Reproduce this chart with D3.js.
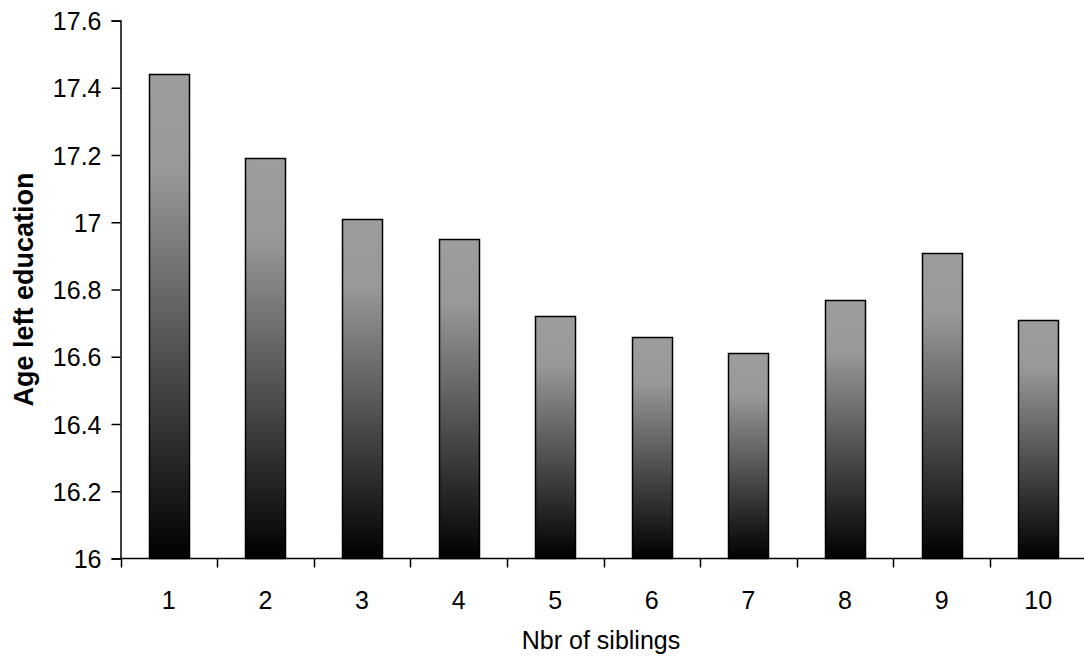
<!DOCTYPE html>
<html>
<head>
<meta charset="utf-8">
<script src="https://cdn.jsdelivr.net/npm/d3@7"></script>
<style>
  html, body { margin: 0; padding: 0; background: #fff; }
  svg { display: block; }
  text { font-family: "Liberation Sans", Arial, sans-serif; fill: #000; }
</style>
</head>
<body>
<svg id="chart" width="1084" height="661"></svg>
<script>
// Mean age at leaving education, by number of siblings
const siblings = ["1", "2", "3", "4", "5", "6", "7", "8", "9", "10"];
const ageLeft = [17.44, 17.19, 17.01, 16.95, 16.72, 16.66, 16.61, 16.77, 16.91, 16.71];
const yTicks = [16, 16.2, 16.4, 16.6, 16.8, 17, 17.2, 17.4, 17.6];
const yTickLabels = ["16", "16.2", "16.4", "16.6", "16.8", "17", "17.2", "17.4", "17.6"];

const svg = d3.select("#chart");
const plotLeft = 120.5, plotRight = 1086.5, plotTop = 20.5, plotBottom = 558.5;

const x = d3.scaleBand().domain(siblings).range([plotLeft, plotRight]).paddingInner(0.586).paddingOuter(0.293);
const xCat = d3.scaleBand().domain(siblings).range([plotLeft, plotRight]);
const y = d3.scaleLinear().domain([16, 17.6]).range([plotBottom, plotTop]);

// vertical grey-to-black fill, per bar
const grad = svg.append("defs").append("linearGradient")
  .attr("id", "barFill").attr("x1", 0).attr("y1", 0).attr("x2", 0).attr("y2", 1);
grad.append("stop").attr("offset", "0%").attr("stop-color", "#9d9d9d");
grad.append("stop").attr("offset", "20%").attr("stop-color", "#989898");
grad.append("stop").attr("offset", "100%").attr("stop-color", "#000000");

svg.append("g").selectAll("rect")
  .data(ageLeft)
  .join("rect")
  .attr("x", (d, i) => Math.round(x(siblings[i])) + 0.5)
  .attr("width", Math.round(x.bandwidth()))
  .attr("y", d => Math.round(y(d)) + 0.5)
  .attr("height", d => plotBottom - Math.round(y(d)) - 0.5)
  .attr("fill", "url(#barFill)")
  .attr("stroke", "#000")
  .attr("stroke-width", 1.5);

// y axis
const yAxis = d3.axisLeft(y).tickValues(yTicks)
  .tickFormat((d, i) => yTickLabels[i]).tickSize(9).tickPadding(10);
const gy = svg.append("g").attr("transform", `translate(${plotLeft},0)`).call(yAxis);
gy.select(".domain").attr("stroke", "#000").attr("stroke-width", 1.5);
gy.selectAll(".tick line").attr("stroke", "#000").attr("stroke-width", 1.5);
gy.selectAll("text").style("font-size", "25px").attr("dy", "0.36em");

// x axis: category labels centred, ticks at category boundaries
const gx = svg.append("g").attr("transform", `translate(0,${plotBottom})`);
gx.append("line").attr("x1", plotLeft).attr("x2", plotRight).attr("stroke", "#000").attr("stroke-width", 1.5);
const bounds = siblings.map(s => xCat(s)).concat([plotRight]);
gx.selectAll("line.tk").data(bounds).join("line").attr("class", "tk")
  .attr("x1", d => Math.round(d) + 0.5).attr("x2", d => Math.round(d) + 0.5)
  .attr("y1", 0).attr("y2", 9).attr("stroke", "#000").attr("stroke-width", 1.5);
gx.selectAll("text").data(siblings).join("text")
  .attr("x", d => xCat(d) + xCat.bandwidth() / 2)
  .attr("y", 50)
  .attr("text-anchor", "middle")
  .style("font-size", "25px")
  .text(d => d);

// axis titles
svg.append("text")
  .attr("x", 601).attr("y", 649)
  .attr("text-anchor", "middle").style("font-size", "25px")
  .text("Nbr of siblings");
svg.append("text")
  .attr("transform", `translate(33,${(plotTop + plotBottom) / 2}) rotate(-90)`)
  .attr("text-anchor", "middle").style("font-size", "27px").style("font-weight", "bold")
  .text("Age left education");
</script>
</body>
</html>
